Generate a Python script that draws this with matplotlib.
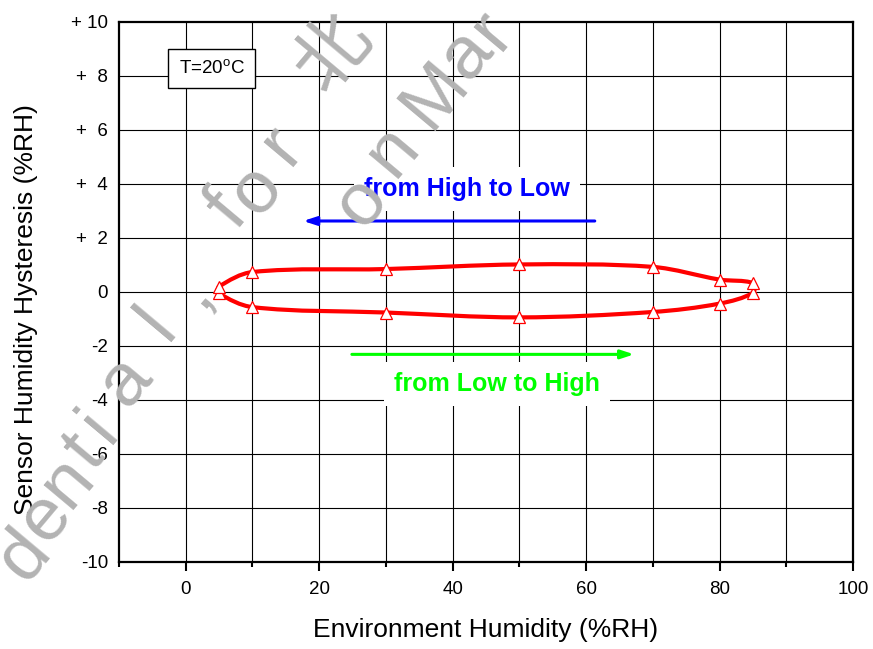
import numpy as np
import matplotlib
matplotlib.use('Agg')
import matplotlib.pyplot as plt
from matplotlib.path import Path
from matplotlib.patches import PathPatch

plt.rcParams['font.family'] = ['Liberation Sans', 'DejaVu Sans']
plt.rcParams['mathtext.fontset'] = 'custom'
plt.rcParams['mathtext.rm'] = 'Liberation Sans'

# humidity going up (low -> high) and coming down (high -> low)
rh_rising = [5, 10, 30, 50, 70, 80, 85]
hyst_rising = [-0.05, -0.56, -0.76, -0.94, -0.74, -0.43, -0.03]
rh_falling = [85, 80, 70, 50, 30, 10, 5]
hyst_falling = [0.33, 0.46, 0.93, 1.02, 0.85, 0.74, 0.2]

x_ticks = [0, 20, 40, 60, 80, 100]
y_ticks = [10, 8, 6, 4, 2, 0, -2, -4, -6, -8, -10]
y_tick_labels = ['+ 10', '+  8', '+  6', '+  4', '+  2', '0', '-2', '-4', '-6', '-8', '-10']

W, H = 873, 649
fig = plt.figure(figsize=(W / 100, H / 100), dpi=100)
ax = fig.add_axes([119 / W, 1 - 562 / H, 734 / W, 540 / H])

ax.set_xlim(-10, 100)
ax.set_ylim(-10, 10)
ax.set_axisbelow(True)

# grid every 10 on x, every 2 on y
ax.set_xticks(x_ticks)
ax.set_xticks([-10, 10, 30, 50, 70, 90], minor=True)
ax.set_yticks(y_ticks)
ax.set_yticklabels(y_tick_labels)
for gx in range(0, 100, 10):
    ax.axvline(gx, color='black', lw=0.8, zorder=0.5)
for gy in range(-8, 10, 2):
    ax.axhline(gy, color='black', lw=0.8, zorder=0.5)

for s in ax.spines.values():
    s.set_linewidth(1.6)
ax.tick_params(axis='x', which='major', direction='out', length=6.5, width=1.5,
               labelsize=13.5, pad=7.5)
ax.tick_params(axis='x', which='minor', direction='out', length=3.5, width=1.5)
ax.tick_params(axis='y', which='both', length=0, labelsize=13.5, pad=8)

# closed smooth loop through the measured points
# (chord-length Catmull-Rom, written as cubic Bezier segments)
pts = np.column_stack([rh_rising + rh_falling, hyst_rising + hyst_falling])
n = len(pts)
scale = np.array([734 / 110, 540 / 20])  # data -> screen-ish, for chord lengths
seg = np.array([np.linalg.norm((pts[(i + 1) % n] - pts[i]) * scale) for i in range(n)])
tang = []
for i in range(n):
    tang.append((pts[(i + 1) % n] - pts[i - 1]) / (seg[i - 1] + seg[i]))
verts = [pts[0]]
codes = [Path.MOVETO]
for i in range(n):
    j = (i + 1) % n
    verts += [pts[i] + tang[i] * seg[i] / 3, pts[j] - tang[j] * seg[i] / 3, pts[j]]
    codes += [Path.CURVE4] * 3
ax.add_patch(PathPatch(Path(verts, codes), facecolor='none', edgecolor='red',
                       lw=3, zorder=3))

ax.plot(rh_rising, hyst_rising, ls='none', marker='^', ms=9, mfc='white',
        mec='red', mew=0.9, zorder=4)
ax.plot(rh_falling, hyst_falling, ls='none', marker='^', ms=9, mfc='white',
        mec='red', mew=0.9, zorder=4)

# direction arrows and labels
ax.annotate('', xy=(17.6, 2.63), xytext=(61.3, 2.63),
            arrowprops=dict(arrowstyle='-|>,head_length=0.55,head_width=0.18',
                            color='blue', lw=2.2, shrinkA=0, shrinkB=0,
                            mutation_scale=14), zorder=5)
ax.text(42.1, 3.81, 'from High to Low', color='blue', fontsize=18,
        fontweight='bold', ha='center', va='center', zorder=4,
        bbox=dict(boxstyle='square,pad=0.4', fc='white', ec='none'))
ax.annotate('', xy=(67.2, -2.31), xytext=(24.9, -2.31),
            arrowprops=dict(arrowstyle='-|>,head_length=0.55,head_width=0.18',
                            color='#00ff00', lw=2.2, shrinkA=0, shrinkB=0,
                            mutation_scale=14), zorder=5)
ax.text(46.6, -3.41, 'from Low to High', color='#00ff00', fontsize=18,
        fontweight='bold', ha='center', va='center', zorder=4,
        bbox=dict(boxstyle='square,pad=0.4', fc='white', ec='none'))

ax.text(3.9, 8.28, r'T=20$^{\mathrm{o}}$C', fontsize=13.5, ha='center',
        va='center', zorder=4,
        bbox=dict(boxstyle='square,pad=0.55', fc='white', ec='black', lw=1))

ax.set_xlabel('Environment Humidity (%RH)', fontsize=19)
ax.set_ylabel('Sensor Humidity Hysteresis (%RH)', fontsize=19)
ax.xaxis.set_label_coords(0.5, -0.103)
ax.yaxis.set_label_coords(-0.110, 0.467)

# grey watermark, one glyph at a time (pixel centres)
wm_chars = ['d', 'e', 'n', 't', 'i', 'a', 'l', ',', 'f', 'o', 'r', '北',
            'o', 'n', 'M', 'a', 'r']
wm_px = [(24, 555), (46, 517), (67, 481), (84, 451), (99, 426), (126, 381),
         (157, 323), (192, 288), (228, 211), (257, 190), (282, 145), (335, 55),
         (362, 202), (392, 150), (435, 95), (467, 54), (492, 30)]
for ch, (px, py) in zip(wm_chars, wm_px):
    fig.text(px / W, 1 - py / H, ch, fontsize=54, color='#b3b3b3',
             rotation=50, ha='center', va='center', rotation_mode='anchor',
             family=['Liberation Sans', 'Noto Sans CJK SC'], zorder=10)

fig.savefig('out.png', dpi=100)
